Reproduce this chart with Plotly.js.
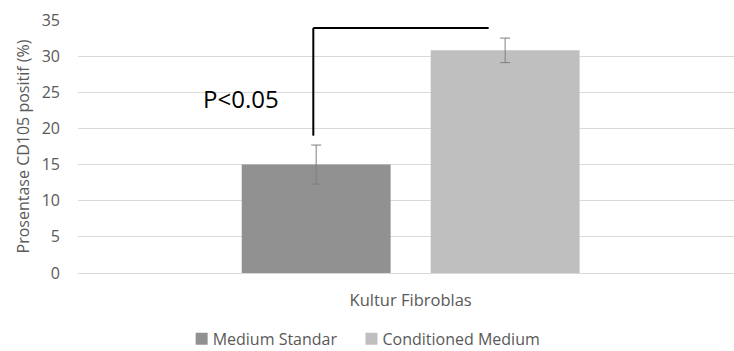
<!DOCTYPE html>
<html>
<head>
<meta charset="utf-8">
<script src="https://cdn.plot.ly/plotly-3.0.1.min.js"></script>
<style>html,body{margin:0;padding:0;background:#fff;}#chart{width:734px;height:351px;}</style>
</head>
<body>
<div id="chart"></div>
<script>
const categories = ["Kultur Fibroblas"];
const seriesNames = ["Medium Standar", "Conditioned Medium"];
const mediumStandar = [15.0];
const mediumStandarErr = [2.7];
const conditionedMedium = [30.8];
const conditionedMediumErr = [1.7];
const yTicks = [0, 5, 10, 15, 20, 25, 30, 35];
const pLabel = "P<0.05";
const bracketLow = 19.0;
const bracketHigh = 33.9;

const FONT = "Open Sans, DejaVu Sans, sans-serif";
const GREY = "#595959";

const traces = [
  {
    type: "bar", name: seriesNames[0], x: categories, y: mediumStandar,
    marker: {color: "#919191"},
    error_y: {type: "data", array: mediumStandarErr, visible: true, color: "#7f7f7f", thickness: 1, width: 5}
  },
  {
    type: "bar", name: seriesNames[1], x: categories, y: conditionedMedium,
    marker: {color: "#bfbfbf"},
    error_y: {type: "data", array: conditionedMediumErr, visible: true, color: "#7f7f7f", thickness: 1, width: 5}
  }
];

const layout = {
  width: 734, height: 351,
  margin: {l: 78, r: 0, t: 20, b: 78, autoexpand: false},
  paper_bgcolor: "#fff", plot_bgcolor: "#fff",
  font: {family: FONT, color: GREY, size: 16},
  barmode: "group",
  bargap: 0.432,
  bargroupgap: 0.212,
  showlegend: true,
  legend: {
    orientation: "h", x: 0.158, xanchor: "left", y: -0.26, yanchor: "middle",
    bgcolor: "rgba(0,0,0,0)",
    font: {family: FONT, size: 16, color: GREY}, traceorder: "normal"
  },
  xaxis: {
    type: "category", range: [-0.5, 0.486], automargin: false,
    showgrid: false, zeroline: false, showline: false,
    ticks: "", tickfont: {family: FONT, size: 16.5, color: GREY},
    ticklabelstandoff: 15
  },
  yaxis: {
    range: [0, 35], tickvals: yTicks, ticktext: yTicks.map(String), automargin: false,
    showgrid: true, gridcolor: "#d9d9d9", gridwidth: 1,
    zeroline: true, zerolinecolor: "#d9d9d9", zerolinewidth: 1,
    showline: false, ticks: "",
    tickfont: {family: FONT, size: 16, color: GREY},
    ticklabelstandoff: 17,
    title: {text: "Prosentase CD105 positif (%)", font: {family: FONT, size: 16, color: GREY}, standoff: 8}
  },
  shapes: [
    {type: "line", xref: "paper", yref: "y", x0: 0.3587, x1: 0.3587, y0: bracketLow, y1: bracketHigh, line: {color: "#000", width: 2}},
    {type: "line", xref: "paper", yref: "y", x0: 0.3587, x1: 0.626, y0: bracketHigh, y1: bracketHigh, line: {color: "#000", width: 2}}
  ],
  annotations: [
    {text: pLabel, xref: "paper", yref: "y", x: 0.249, y: 24.2, showarrow: false,
     font: {family: FONT, size: 24, color: "#000"}, xanchor: "center", yanchor: "middle"}
  ]
};

Plotly.newPlot("chart", traces, layout, {displayModeBar: false, staticPlot: true}).then(function (gd) {
  // tighten the gap between legend swatch and its label, as in the reference
  gd.querySelectorAll(".legend .legendtext").forEach(function (t) { t.setAttribute("x", 31); });
});
</script>
</body>
</html>
